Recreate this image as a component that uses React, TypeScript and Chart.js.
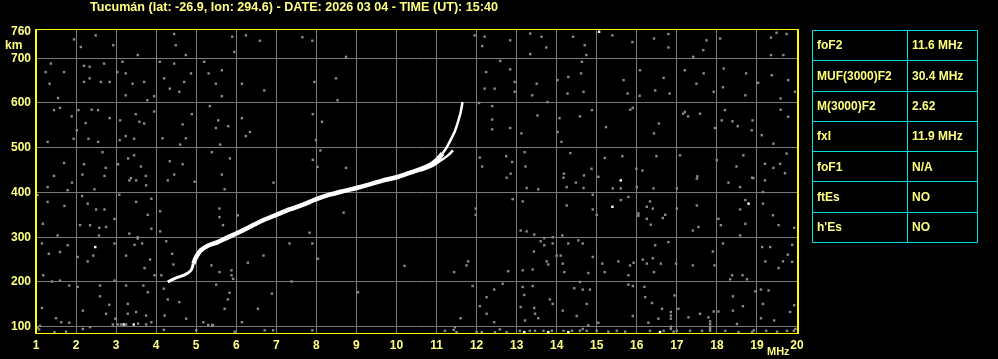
import { useEffect, useRef } from "react";
import { Chart, registerables } from "chart.js";

Chart.register(...registerables);

const TITLE = "Tucumán (lat: -26.9, lon: 294.6) - DATE: 2026 03 04 - TIME (UT): 15:40";

const paramNames = ["foF2", "MUF(3000)F2", "M(3000)F2", "fxI", "foF1", "ftEs", "h'Es"];
const paramValues = ["11.6 MHz", "30.4 MHz", "2.62", "11.9 MHz", "N/A", "NO", "NO"];

const freqTicks = [1, 2, 3, 4, 5, 6, 7, 8, 9, 10, 11, 12, 13, 14, 15, 16, 17, 18, 19, 20];
const heightTicks = [100, 200, 300, 400, 500, 600, 700, 760];

// Ordinary trace (MHz, km)
const oTrace: [number, number][] = [
  [4.29, 200], [4.5, 209], [4.71, 216], [4.87, 226], [4.93, 241], [5.0, 256], [5.12, 271],
  [5.29, 281], [5.54, 289], [5.75, 298], [6.04, 310], [6.33, 323], [6.67, 338], [7.0, 350],
  [7.33, 362], [7.67, 373], [8.0, 385], [8.33, 395], [8.67, 403], [9.0, 410], [9.33, 418],
  [9.67, 427], [10.0, 434], [10.33, 444], [10.6, 452], [10.85, 462], [11.0, 472], [11.15, 487],
  [11.25, 500], [11.35, 517], [11.45, 535], [11.53, 556], [11.6, 578], [11.65, 602],
];

// Extraordinary trace (MHz, km)
const xTrace: [number, number][] = [
  [10.6, 449], [10.85, 457], [11.0, 465], [11.15, 474], [11.3, 484], [11.41, 494],
];

// Gray noise echoes (MHz, km)
const noiseGray: [number, number][] = [
  [1.95, 742], [2.49, 751], [2.93, 729], [2.12, 725], [3.54, 707], [4.45, 754], [4.49, 729],
  [4.74, 707], [5.9, 748], [5.95, 714], [6.24, 751], [6.59, 739], [7.65, 747], [7.9, 739],
  [8.74, 703], [1.37, 688], [1.24, 669], [1.7, 669], [2.2, 683], [2.34, 681], [2.7, 688],
  [3.03, 669], [3.24, 666], [3.16, 692], [2.2, 647], [2.34, 655], [2.62, 647], [2.84, 647],
  [3.41, 643], [3.7, 647], [4.09, 692], [4.45, 688], [4.2, 655], [4.34, 632], [4.58, 625],
  [4.7, 647], [4.87, 666], [5.2, 692], [5.31, 666], [5.64, 673], [5.49, 643], [5.64, 615],
  [6.14, 643], [6.7, 628], [7.95, 647], [8.49, 655], [8.53, 606], [1.34, 643], [1.55, 611],
  [3.24, 617], [3.78, 606], [3.95, 615], [1.45, 584], [1.6, 589], [1.89, 570], [2.06, 584],
  [2.24, 555], [2.39, 585], [2.02, 539], [2.55, 584], [2.84, 566], [3.1, 561], [3.49, 575],
  [3.58, 558], [3.7, 554], [3.95, 581], [4.66, 552], [4.89, 575], [5.34, 593], [5.55, 561],
  [5.49, 544], [5.8, 548], [6.14, 566], [6.34, 535], [6.24, 526], [7.91, 575], [8.14, 558],
  [1.29, 513], [1.94, 520], [2.31, 520], [2.55, 513], [3.09, 517], [3.24, 526], [3.45, 520],
  [4.16, 521], [4.74, 521], [4.6, 507], [5.6, 507], [7.99, 517], [1.7, 466], [1.45, 437],
  [2.16, 440], [2.2, 463], [2.66, 490], [2.74, 455], [3.05, 463], [3.3, 476], [3.45, 483],
  [3.62, 458], [3.74, 437], [3.37, 432], [4.34, 470], [4.66, 463], [4.45, 440], [5.39, 490],
  [5.84, 476], [5.64, 440], [7.91, 473], [8.03, 457], [8.74, 455], [8.1, 494],
  [11.95, 751], [12.2, 748], [12.14, 727], [12.84, 740], [13.34, 755], [13.62, 748],
  [13.34, 709], [13.74, 724], [14.41, 748], [14.7, 729], [14.74, 707], [15.39, 751],
  [15.89, 736], [16.43, 744], [16.79, 754], [16.79, 724], [17.41, 703], [17.66, 718],
  [17.74, 740], [18.08, 744], [19.35, 746], [19.49, 757], [19.74, 754], [19.35, 707],
  [19.66, 707], [12.59, 694], [12.84, 675], [12.24, 669], [12.2, 632], [12.45, 632],
  [12.95, 625], [12.95, 647], [13.39, 617], [13.5, 643], [13.77, 602], [14.02, 651],
  [14.29, 658], [14.27, 621], [14.61, 666], [14.67, 625], [14.63, 692], [15.67, 651],
  [15.77, 621], [16.08, 673], [16.07, 616], [16.46, 628], [16.67, 656], [16.82, 621],
  [17.2, 673], [17.49, 643], [17.67, 666], [17.92, 625], [18.17, 677], [18.15, 635],
  [18.73, 666], [18.71, 617], [19.03, 645], [19.37, 662], [19.59, 610], [19.78, 651],
  [19.95, 625], [12.06, 600], [12.39, 593], [12.39, 563], [12.39, 541], [12.84, 544],
  [13.12, 532], [13.52, 572], [14.07, 566], [14.02, 535], [14.12, 513], [14.58, 570],
  [14.88, 584], [15.23, 546], [15.84, 585], [15.9, 589], [16.55, 554], [16.43, 532],
  [17.16, 576], [17.2, 580], [17.28, 570], [17.58, 576], [17.95, 544], [18.2, 584],
  [18.12, 561], [18.39, 559], [18.52, 548], [18.87, 539], [18.89, 561], [19.12, 528],
  [19.41, 509], [19.59, 585], [19.78, 569], [12.08, 478], [12.14, 458], [12.74, 481],
  [12.89, 468], [12.85, 442], [13.22, 458], [13.2, 490], [14.18, 442], [14.34, 488],
  [14.68, 438], [14.87, 453], [15.2, 477], [15.64, 481], [15.99, 453], [16.14, 449],
  [16.49, 481], [17.08, 483], [17.51, 436], [18.0, 472], [18.49, 458], [18.66, 483],
  [18.91, 432], [19.2, 464], [19.41, 455], [19.58, 464], [19.7, 443], [19.74, 487],
  [1.29, 412], [1.79, 405], [1.9, 422], [2.46, 407], [2.71, 437], [3.33, 427], [3.5, 427],
  [3.75, 416], [4.29, 427], [4.96, 424], [5.71, 407], [6.93, 422], [1.04, 394], [1.29, 379],
  [1.71, 370], [2.15, 392], [2.29, 375], [2.5, 362], [2.71, 362], [3.08, 395], [3.5, 379],
  [3.88, 386], [3.79, 350], [4.1, 358], [1.17, 330], [1.54, 304], [2.1, 327], [2.35, 327],
  [2.58, 321], [2.75, 323], [2.57, 304], [2.96, 341], [3.33, 308], [3.54, 300], [3.88, 319],
  [4.1, 313], [5.58, 364], [5.58, 345], [6.04, 349], [5.67, 327], [7.83, 310], [8.68, 355],
  [1.15, 286], [1.32, 263], [1.6, 267], [1.79, 282], [2.43, 259], [2.04, 256],
  [2.29, 246], [2.96, 286], [3.25, 259], [3.46, 283], [3.65, 286], [3.54, 297], [3.71, 231],
  [3.96, 215], [4.13, 215], [3.85, 250], [4.25, 291], [4.4, 263], [4.43, 239], [5.38, 237],
  [5.58, 222], [5.88, 226], [5.88, 215], [5.92, 207], [6.29, 243], [6.68, 259], [7.33, 286],
  [7.9, 286], [8.04, 252], [10.2, 236], [1.18, 215], [1.4, 201], [1.6, 203], [1.83, 192],
  [2.04, 189], [2.6, 192], [2.6, 168], [2.96, 203], [3.25, 192], [3.68, 192], [3.79, 177],
  [4.19, 185], [4.29, 161], [4.58, 155], [5.5, 194], [5.83, 176], [5.79, 161], [5.71, 140],
  [6.54, 140], [6.89, 174], [7.38, 201], [9.04, 177], [1.15, 142], [1.5, 119], [1.63, 110],
  [1.83, 109], [2.17, 136], [2.35, 99], [2.75, 129], [2.83, 149], [2.98, 118], [3.29, 151],
  [3.29, 129], [3.5, 133], [3.75, 125], [3.88, 110], [4.21, 125], [4.75, 118], [5.18, 110],
  [5.42, 103], [6.14, 110], [1.08, 94], [1.46, 88], [1.75, 89], [2.17, 95], [2.92, 105],
  [3.04, 105], [3.12, 105], [3.25, 105], [3.55, 107], [3.75, 105], [4.19, 93], [5.0, 92],
  [5.96, 89], [6.71, 92], [6.92, 92], [7.9, 92], [1.04, 98], [1.1, 102], [5.3, 104], [5.4, 104],
  [12.75, 433], [13.25, 410], [13.54, 407], [14.17, 433], [14.25, 412], [14.48, 422],
  [14.67, 410], [15.04, 435], [15.4, 409], [15.6, 409], [16.0, 412], [16.42, 409], [17.0, 409],
  [17.5, 431], [18.29, 422], [18.58, 412], [18.88, 433], [19.2, 427], [19.15, 401], [12.9, 385],
  [13.15, 380], [14.25, 371], [14.9, 395], [14.9, 362], [15.0, 350], [15.6, 383], [15.79, 390],
  [16.04, 353], [16.04, 348], [16.25, 368], [16.33, 380], [16.4, 364], [16.25, 341], [16.35, 328],
  [16.65, 343], [16.71, 350], [17.0, 364], [17.5, 371], [17.54, 323], [17.4, 315], [18.04, 341],
  [18.1, 327], [18.71, 383], [18.58, 362], [18.71, 330], [18.58, 304], [19.15, 375], [19.4, 349],
  [19.54, 327], [19.93, 321], [19.13, 278], [19.33, 278], [19.77, 261], [19.54, 231],
  [19.88, 245], [19.88, 283], [19.21, 246], [19.65, 246], [11.98, 364], [11.98, 350],
  [13.1, 315], [13.25, 313], [13.44, 306], [13.69, 298], [13.9, 300], [14.14, 304], [13.6, 291],
  [13.69, 282], [13.9, 286], [14.29, 286], [14.65, 286], [14.54, 293], [14.9, 256], [14.0, 259],
  [14.1, 259], [13.43, 268], [13.75, 246], [13.79, 239], [14.15, 241], [14.19, 222],
  [14.58, 200], [14.79, 220], [15.14, 241], [15.2, 222], [15.54, 246], [15.83, 237],
  [15.92, 243], [15.79, 215], [16.15, 250], [16.25, 241], [16.4, 253], [16.46, 282],
  [16.43, 222], [16.6, 241], [16.79, 289], [16.98, 241], [17.4, 237], [17.9, 268], [17.94, 237],
  [18.15, 286], [18.38, 215], [18.33, 206], [18.64, 215], [18.75, 206], [11.79, 246],
  [11.75, 237], [11.44, 222], [12.79, 224], [13.15, 226], [13.4, 228], [12.65, 196],
  [11.9, 191], [12.44, 183], [12.25, 166], [12.08, 146], [12.25, 129], [12.44, 110],
  [11.6, 119], [11.46, 99], [13.15, 189], [13.4, 191], [13.19, 171], [13.1, 144], [13.44, 142],
  [13.46, 129], [13.21, 114], [13.54, 119], [13.9, 151], [13.83, 161], [14.15, 136],
  [14.44, 186], [14.65, 183], [14.83, 183], [14.75, 151], [14.5, 124], [14.79, 103],
  [15.04, 109], [15.79, 194], [15.9, 191], [15.9, 124], [16.19, 189], [16.21, 166],
  [16.38, 153], [16.29, 109], [16.54, 118], [16.63, 140], [16.85, 133], [16.85, 125],
  [16.85, 118], [17.04, 140], [16.94, 170], [17.29, 121], [17.58, 129], [17.79, 121],
  [17.83, 106], [17.83, 112], [17.92, 134], [18.04, 134], [18.4, 168], [18.4, 136], [18.65, 146],
  [18.96, 179], [19.1, 183], [19.29, 181], [19.15, 151], [19.1, 119], [19.43, 114],
  [19.83, 133], [19.93, 148], [18.5, 106], [11.43, 93], [11.21, 91], [11.5, 88], [12.0, 88],
  [12.13, 88], [12.46, 88], [12.75, 88], [13.08, 91], [13.33, 91], [13.46, 91], [13.67, 91],
  [13.88, 91], [14.17, 91], [14.38, 91], [14.58, 91], [14.75, 91], [15.0, 91], [15.29, 89],
  [15.5, 91], [15.71, 89], [16.33, 91], [16.67, 91], [16.92, 89], [17.0, 91], [17.33, 91],
  [17.63, 91], [17.83, 91], [18.21, 91], [18.54, 88], [18.88, 88], [19.23, 91], [19.5, 89],
  [19.75, 91], [19.92, 91], [16.85, 95], [16.85, 100], [17.83, 95], [17.83, 100], [14.65, 95],
  [12.58, 94], [18.92, 92], [19.96, 95],
];

// Bright (white) isolated echoes (MHz, km)
const noiseWhite: [number, number][] = [
  [15.06, 759], [15.39, 368], [18.79, 375], [15.6, 427], [2.48, 278], [3.19, 105], [3.44, 105],
  [13.19, 88], [13.79, 88], [14.29, 88], [16.58, 88],
];

const YELLOW_TEXT = "#ffff80";
const YELLOW_LINE = "#ffff00";
const GRID = "#7a7a7a";
const NOISE = "#8a8a8a";
const CYAN = "#00e0e0";
const FONT = "'Liberation Sans', Arial, sans-serif";

export default function App() {
  const ref = useRef<HTMLCanvasElement>(null);

  useEffect(() => {
    document.body.style.margin = "0";
    document.body.style.background = "#000";
    const canvas = ref.current!;

    const overlay = {
      id: "ionogramOverlay",
      afterDraw(chart: any) {
        const ctx = chart.ctx as CanvasRenderingContext2D;
        const a = chart.chartArea;
        const L = Math.round(a.left), R = Math.round(a.right), T = Math.round(a.top), B = Math.round(a.bottom);
        ctx.save();
        // frame
        ctx.fillStyle = YELLOW_LINE;
        ctx.fillRect(L - 1, T - 1, R - L + 3, 1);
        ctx.fillRect(L - 1, B, R - L + 3, 1);
        ctx.fillRect(L - 1, T - 1, 2, B - T + 2);
        ctx.fillRect(R, T - 1, 2, B - T + 2);

        // title
        ctx.fillStyle = YELLOW_TEXT;
        ctx.font = `bold 12px ${FONT}`;
        ctx.textBaseline = "alphabetic";
        ctx.textAlign = "left";
        const tw = ctx.measureText(TITLE).width;
        const target = 408;
        ctx.save();
        ctx.translate(90, 11);
        ctx.scale(target / tw, 1);
        ctx.fillText(TITLE, 0, 0);
        ctx.restore();

        // km
        ctx.font = `bold 12px ${FONT}`;
        ctx.textBaseline = "middle";
        ctx.fillText("km", 5, 46);

        // MHz
        ctx.font = `bold 11px ${FONT}`;
        ctx.textBaseline = "alphabetic";
        ctx.fillText("MHz", 767, 355);

        // table
        const tx0 = 812, tx1 = 978, tcol = 907, ty0 = 30, ty1 = 242;
        const rows = paramNames.length;
        const rh = (ty1 - ty0) / rows;
        ctx.strokeStyle = CYAN;
        ctx.lineWidth = 1;
        ctx.beginPath();
        ctx.rect(tx0 + 0.5, ty0 + 0.5, tx1 - tx0 - 1, ty1 - ty0);
        ctx.moveTo(tcol + 0.5, ty0);
        ctx.lineTo(tcol + 0.5, ty1);
        for (let i = 1; i < rows; i++) {
          const y = Math.round(ty0 + i * rh) + 0.5;
          ctx.moveTo(tx0, y);
          ctx.lineTo(tx1, y);
        }
        ctx.stroke();
        ctx.fillStyle = YELLOW_TEXT;
        ctx.font = `bold 12px ${FONT}`;
        ctx.textBaseline = "middle";
        for (let i = 0; i < rows; i++) {
          const yc = ty0 + (i + 0.5) * rh + 1;
          ctx.fillText(paramNames[i], 817, yc);
          ctx.fillText(paramValues[i], 912, yc);
        }
        ctx.restore();
      },
    };

    const chart = new Chart(canvas, {
      type: "scatter",
      data: {
        datasets: [
          {
            label: "O",
            data: oTrace.map(([x, y]) => ({ x, y })),
            showLine: true,
            borderColor: "#ffffff",
            backgroundColor: "#ffffff",
            borderWidth: 4,
            pointRadius: 0,
            tension: 0.3,
            segment: {
              borderWidth: (c: any) => {
                const x = c.p0.parsed.x;
                if (x < 4.9) return 3;
                if (x > 11.1) return 2.5;
                return 4.5;
              },
            },
          },
          {
            label: "X",
            data: xTrace.map(([x, y]) => ({ x, y })),
            showLine: true,
            borderColor: "#ffffff",
            backgroundColor: "#ffffff",
            borderWidth: 2.5,
            pointRadius: 0,
            tension: 0.3,
          },
          {
            label: "white echoes",
            data: noiseWhite.map(([x, y]) => ({ x, y })),
            pointStyle: "rect",
            pointRadius: 1.7,
            pointBackgroundColor: "#ffffff",
            pointBorderWidth: 0,
            showLine: false,
          },
          {
            label: "noise",
            data: noiseGray.map(([x, y]) => ({ x, y })),
            pointStyle: "rect",
            pointRadius: 1.7,
            pointBackgroundColor: NOISE,
            pointBorderWidth: 0,
            showLine: false,
          },
        ],
      },
      options: {
        responsive: false,
        animation: false,
        devicePixelRatio: 1,
        layout: { padding: { top: 30, right: 201, bottom: 0, left: 0 } },
        plugins: {
          legend: { display: false },
          tooltip: { enabled: false },
          title: { display: false },
        },
        scales: {
          x: {
            type: "linear",
            position: "bottom",
            min: freqTicks[0],
            max: freqTicks[freqTicks.length - 1],
            afterFit: (s: any) => {
              s.height = 26;
            },
            afterBuildTicks: (s: any) => {
              s.ticks = freqTicks.map((v) => ({ value: v }));
            },
            grid: { color: GRID, lineWidth: 1, drawTicks: false },
            border: { display: false },
            ticks: {
              color: YELLOW_TEXT,
              font: { family: FONT, size: 12, weight: "bold" },
              padding: 5,
              autoSkip: false,
              maxRotation: 0,
              callback: (v: any) => String(v),
            },
          },
          y: {
            type: "linear",
            position: "left",
            min: 86,
            max: 763,
            afterFit: (s: any) => {
              s.width = 36;
            },
            afterBuildTicks: (s: any) => {
              s.ticks = heightTicks.map((v) => ({ value: v }));
            },
            grid: {
              color: (c: any) => (c.tick && c.tick.value === 760 ? "rgba(0,0,0,0)" : GRID),
              lineWidth: 1,
              drawTicks: false,
            },
            border: { display: false },
            ticks: {
              color: YELLOW_TEXT,
              font: { family: FONT, size: 12, weight: "bold" },
              padding: 5,
              autoSkip: false,
              callback: (v: any) => String(v),
            },
          },
        },
      },
      plugins: [overlay],
    } as any);

    return () => chart.destroy();
  }, []);

  return (
    <div style={{ width: 998, height: 359, background: "#000", position: "relative" }}>
      <canvas ref={ref} width={998} height={359} style={{ display: "block", width: 998, height: 359 }} />
    </div>
  );
}
